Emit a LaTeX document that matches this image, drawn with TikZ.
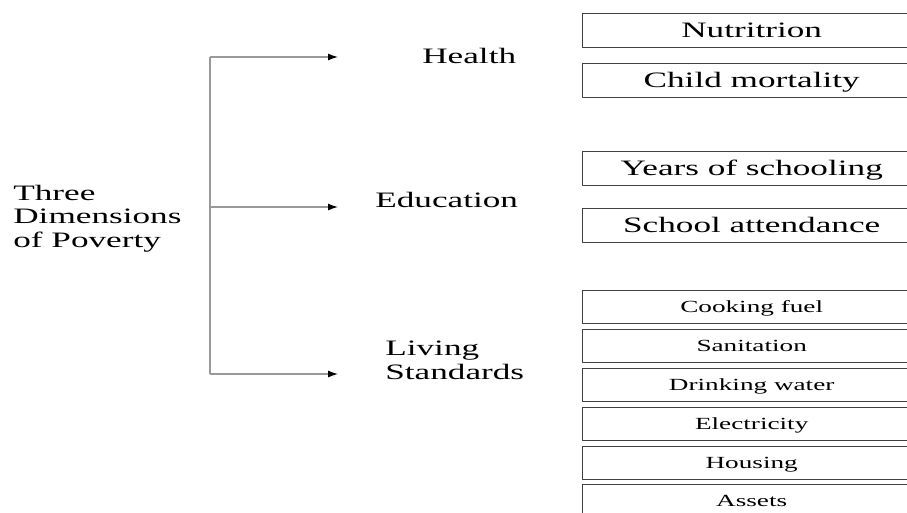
\documentclass[tikz,border=0pt]{standalone}
\usepackage{fontspec}
\setmainfont{Liberation Serif}
\usetikzlibrary{arrows.meta}

\tikzset{
  wide/.style={xscale=1.6},
  dimtext/.style={wide, font=\fontsize{22}{23.5}\selectfont, align=left,
    anchor=base west, inner sep=0pt},
  indbox/.style={wide, draw=black!75, line width=1.1pt, anchor=north west,
    minimum width=211pt, minimum height=34pt, inner sep=0pt,
    font=\fontsize{22}{24}\selectfont, text height=14.5pt, text depth=0pt},
  indsmall/.style={indbox, minimum height=33pt,
    font=\fontsize{17}{19}\selectfont, text height=11.3pt},
  branch/.style={draw=black!40, line width=1.2pt},
}

\begin{document}
\begin{tikzpicture}[x=1pt,y=-1pt,line join=round,
    >={Latex[length=10pt,width=7pt,color=black]}]
  \clip (0,0) rectangle (907,512);

  % the three dimensions
  \node[dimtext,anchor=north west] (poverty) at (13,185) {Three\\Dimensions\\of Poverty};
  \node[dimtext] (health) at (422,63) {Health};
  \node[dimtext] (education) at (375,207) {Education};
  \node[dimtext,anchor=north west] (living) at (385,341) {Living\\Standards};

  % bracket with arrows
  \coordinate (top) at (210,57);
  \coordinate (mid) at (210,207);
  \coordinate (bot) at (210,374);
  \coordinate (htip) at (338,57);
  \coordinate (etip) at (338,207);
  \coordinate (ltip) at (338,374);
  \draw[branch] (top) -- (bot);
  \draw[branch,->] (top) -- (htip);
  \draw[branch,->] (mid) -- (etip);
  \draw[branch,->] (bot) -- (ltip);

  % indicators
  \foreach \n/\t/\txt in {nutr/13/Nutritrion, child/63/Child mortality,
      years/151/Years of schooling, school/208/School attendance}
    \node[indbox] (\n) at (582,\t) {\txt};
  \foreach \n/\t/\txt in {cook/290/Cooking fuel, sanit/329/Sanitation,
      water/368/Drinking water, elec/407/Electricity,
      house/446/Housing, assets/484/Assets}
    \node[indsmall] (\n) at (582,\t) {\txt};
\end{tikzpicture}
\end{document}
